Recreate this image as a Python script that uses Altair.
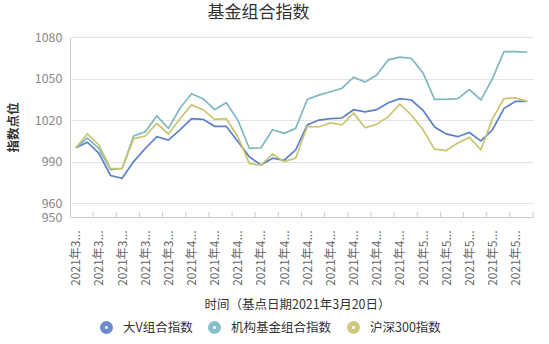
import altair as alt
import pandas as pd

series_names = ["大V组合指数", "机构基金组合指数", "沪深300指数"]
series_colors = ["#5b7fca", "#7db8c0", "#c9c470"]

idx = list(range(40))

big_v = [1000, 1004, 996, 980, 978, 990, 999.5, 1008, 1005.5, 1013,
         1021, 1020.5, 1015.5, 1015.5, 1004.5, 993.5, 987.5, 992.5, 991, 998.5,
         1016.5, 1020, 1021, 1021.5, 1027.5, 1026, 1027.5, 1032.5, 1035.5, 1034.5,
         1027, 1015, 1010, 1008, 1011, 1005, 1013, 1028.5, 1033.5, 1033.5]

inst = [1000, 1007, 999.5, 984, 985, 1008.5, 1011.5, 1023, 1014, 1028.5,
        1039, 1035.5, 1027.5, 1032.5, 1020, 999.5, 1000, 1013, 1010.5, 1014,
        1035, 1038, 1040.5, 1043, 1051, 1047.5, 1052.5, 1063.5, 1065.5, 1064.5,
        1054, 1035, 1035, 1035.5, 1042, 1034.5, 1050, 1069.5, 1069.5, 1069]

hs300 = [1000, 1010, 1002, 985, 985, 1006.5, 1008.5, 1017.5, 1010, 1021,
         1031, 1027.5, 1020.5, 1021, 1008, 988.5, 987.5, 995.5, 990, 992.5,
         1015.5, 1015, 1018, 1016.5, 1025, 1014.5, 1017, 1022.5, 1031.5, 1023.5,
         1013, 999, 998, 1003.5, 1007.5, 998.5, 1021, 1035.5, 1036, 1033.5]

x_labels = ["2021年3..."] * 5 + ["2021年4..."] * 10 + ["2021年5..."] * 5
label_values = list(range(0, 40, 2))
tick_values = [1.5 + 2 * k for k in range(20)]
y_ticks = [950, 960, 990, 1020, 1050, 1080]

rows = []
for name, vals in zip(series_names, [big_v, inst, hs300]):
    for i, v in zip(idx, vals):
        rows.append({"idx": i, "value": v, "series": name})
df = pd.DataFrame(rows)
ticks_df = pd.DataFrame({"t": tick_values})

FONT = "Noto Sans CJK SC"
W, H = 463, 180

label_arr = "[" + ",".join("'" + s + "'" for s in x_labels) + "]"

x_scale = alt.Scale(domain=[-0.5, 39.5], nice=False, zero=False)

lines = alt.Chart(df).mark_line(strokeWidth=1.7).encode(
    x=alt.X("idx:Q", scale=x_scale,
            axis=alt.Axis(values=label_values,
                          labelExpr=label_arr + "[round(datum.value/2)]",
                          labelAngle=270, labelAlign="right", labelBaseline="middle",
                          labelFontSize=12, labelColor="#666", labelFont=FONT,
                          labelPadding=13, ticks=False, grid=False,
                          domain=True, domainColor="#cccccc",
                          labelOverlap=False,
                          title="时间（基点日期2021年3月20日）",
                          titleFont=FONT, titleFontSize=12.5, titleFontWeight="normal",
                          titleColor="#333", titleX=227, titleY=87,
                          titleAlign="center", titleBaseline="middle")),
    y=alt.Y("value:Q", scale=alt.Scale(domain=[950, 1080], nice=False, zero=False),
            axis=alt.Axis(values=y_ticks, format="d", grid=True, gridColor="#e3e3e3",
                          domain=True, domainColor="#cccccc", ticks=False,
                          labelFontSize=12.5, labelColor="#888", labelFont=FONT,
                          labelPadding=8, labelOverlap=False,
                          title="指数点位", titleFont=FONT, titleFontSize=12.5,
                          titleFontWeight="bold", titleColor="#333",
                          titleAngle=270, titleX=-57, titleY=90,
                          titleAlign="center", titleBaseline="middle")),
    color=alt.Color("series:N",
                    scale=alt.Scale(domain=series_names, range=series_colors),
                    legend=alt.Legend(orient="none", legendX=30, legendY=284,
                                      direction="horizontal", title=None,
                                      symbolType="circle", symbolSize=25,
                                      symbolStrokeWidth=8, symbolOpacity=0.9,
                                      labelFont=FONT, labelFontSize=12.5,
                                      labelColor="#333", labelOffset=10,
                                      columnPadding=3)),
)

inner_ticks = alt.Chart(ticks_df).mark_rule(color="#cccccc", strokeWidth=1).encode(
    x=alt.X("t:Q", scale=x_scale, axis=None),
    y=alt.value(H),
    y2=alt.value(H - 5),
)

chart = alt.layer(lines, inner_ticks).resolve_axis(x="independent").properties(
    width=W, height=H,
    title=alt.TitleParams("基金组合指数", font=FONT, fontSize=17, fontWeight="normal",
                          color="#333", anchor="middle", dx=-43, offset=9),
    autosize=alt.AutoSizeParams(type="none"),
    padding={"left": 70, "top": 37, "right": 16, "bottom": 127},
    background="white",
).configure_view(stroke=None)

chart.save("out.html", embed_options={"renderer": "svg", "actions": False})
